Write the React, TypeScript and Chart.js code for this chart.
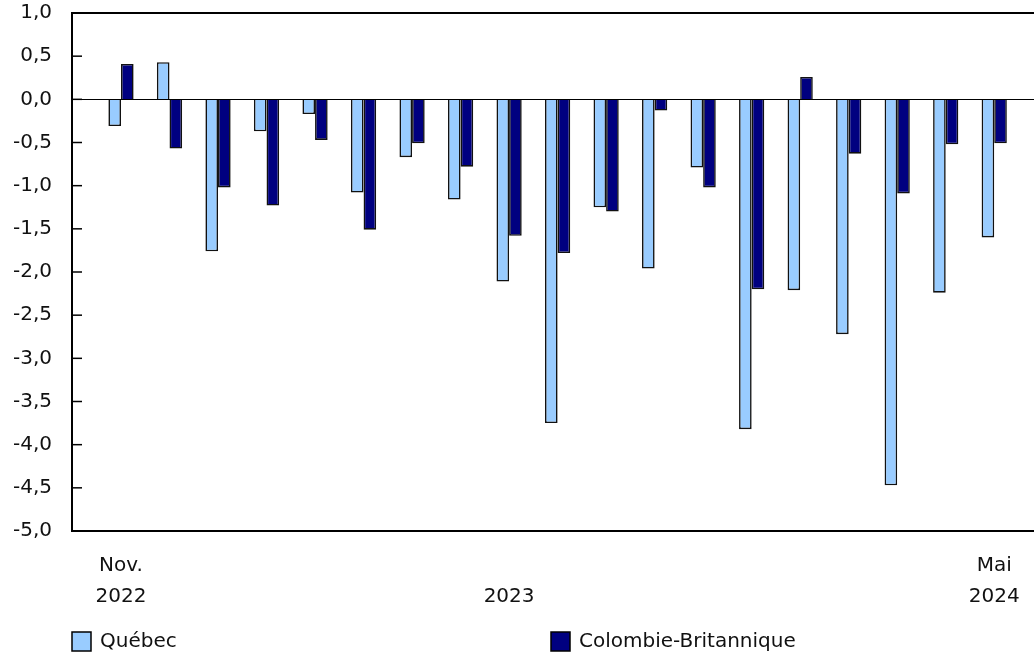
import React, { useEffect, useRef } from "react";
import { Chart, registerables } from "chart.js";

Chart.register(...registerables);

const months = [
  "Nov. 2022", "Déc. 2022", "Janv. 2023", "Févr. 2023", "Mars 2023", "Avr. 2023",
  "Mai 2023", "Juin 2023", "Juil. 2023", "Août 2023", "Sept. 2023", "Oct. 2023",
  "Nov. 2023", "Déc. 2023", "Janv. 2024", "Févr. 2024", "Mars 2024", "Avr. 2024", "Mai 2024",
];
const quebec = [
  -0.31, 0.43, -1.76, -0.37, -0.17, -1.08, -0.67, -1.16, -2.11, -3.75,
  -1.25, -1.96, -0.79, -3.82, -2.21, -2.72, -4.47, -2.24, -1.6,
];
const colombieBritannique = [
  0.41, -0.57, -1.02, -1.23, -0.47, -1.51, -0.51, -0.78, -1.58, -1.78,
  -1.3, -0.13, -1.02, -2.2, 0.26, -0.63, -1.09, -0.52, -0.51,
];
const xTickIndex = [0, 8, 18];
const xTickLabels = [["Nov.", "2022"], ["", "2023"], ["Mai", "2024"]];
const seriesNames = ["Québec", "Colombie-Britannique"];
const seriesColors = ["#99CCFF", "#000080"];

const FONT = "'DejaVu Sans', Verdana, sans-serif";
const FONT_SIZE = 20;
const TEXT = "#111";

const framePlugin = {
  id: "frame",
  afterDatasetsDraw(chart: any) {
    const { ctx, chartArea } = chart;
    const y = chart.scales.y;
    ctx.save();
    ctx.strokeStyle = "#000";
    ctx.lineWidth = 1.2;
    const y0 = Math.round(y.getPixelForValue(0)) + 0.5;
    ctx.beginPath();
    ctx.moveTo(chartArea.left, y0);
    ctx.lineTo(chartArea.right, y0);
    ctx.stroke();
    ctx.lineWidth = 1.5;
    y.ticks.forEach((t: any) => {
      const py = y.getPixelForValue(t.value);
      ctx.beginPath();
      ctx.moveTo(chartArea.left, py);
      ctx.lineTo(chartArea.left + 10, py);
      ctx.stroke();
    });
    ctx.lineWidth = 2;
    ctx.beginPath();
    ctx.moveTo(chartArea.right, chartArea.top);
    ctx.lineTo(chartArea.left, chartArea.top);
    ctx.lineTo(chartArea.left, chartArea.bottom);
    ctx.lineTo(chartArea.right, chartArea.bottom);
    ctx.stroke();
    ctx.restore();
  },
  afterDraw(chart: any) {
    const { ctx } = chart;
    const boxX = [72, 551];
    ctx.save();
    ctx.font = `${FONT_SIZE}px ${FONT}`;
    ctx.textBaseline = "middle";
    ctx.textAlign = "left";
    seriesNames.forEach((name, i) => {
      const bx = boxX[i];
      const by = 632;
      ctx.fillStyle = seriesColors[i];
      ctx.fillRect(bx, by, 19, 19);
      ctx.strokeStyle = "#000";
      ctx.lineWidth = 1.5;
      ctx.strokeRect(bx, by, 19, 19);
      ctx.fillStyle = TEXT;
      ctx.fillText(name, bx + 28, by + 10);
    });
    ctx.restore();
  },
};

export default function App() {
  const ref = useRef<HTMLCanvasElement>(null);
  useEffect(() => {
    document.body.style.margin = "0";
    const canvas = ref.current;
    if (!canvas) return;
    const chart = new Chart(canvas, {
      type: "bar",
      data: {
        labels: months,
        datasets: [
          {
            label: seriesNames[0],
            data: quebec.map((v, i) => ({ x: i, y: v })),
            backgroundColor: seriesColors[0],
            borderColor: "#111",
            borderWidth: 1.6,
          },
          {
            label: seriesNames[1],
            data: colombieBritannique.map((v, i) => ({ x: i, y: v })),
            backgroundColor: seriesColors[1],
            borderColor: "#111",
            borderWidth: 1.6,
          },
        ],
      },
      options: {
        responsive: false,
        animation: false,
        categoryPercentage: 0.52,
        barPercentage: 1,
        layout: { padding: { top: 13, left: 0, right: 0, bottom: 0 } },
        plugins: { legend: { display: false }, tooltip: { enabled: false } },
        scales: {
          x: {
            type: "linear",
            offset: false,
            min: -1.01,
            max: 18.82,
            grid: { display: false },
            border: { display: false },
            afterBuildTicks: (s: any) => {
              s.ticks = xTickIndex.map((v) => ({ value: v }));
            },
            afterFit: (s: any) => {
              s.height = 124;
              s.paddingLeft = 0;
              s.paddingRight = 0;
            },
            ticks: {
              autoSkip: false,
              maxRotation: 0,
              padding: 11.5,
              color: TEXT,
              font: { family: FONT, size: FONT_SIZE, lineHeight: "31px" },
              callback: (value: any) => {
                const i = xTickIndex.indexOf(value);
                return i >= 0 ? xTickLabels[i] : "";
              },
            },
          },
          y: {
            min: -5,
            max: 1,
            grid: { display: false, drawTicks: false },
            border: { display: false },
            afterFit: (s: any) => {
              s.width = 72;
              s.paddingTop = 0;
              s.paddingBottom = 0;
            },
            ticks: {
              stepSize: 0.5,
              padding: 20,
              color: TEXT,
              font: { family: FONT, size: FONT_SIZE },
              callback: (value: any) => Number(value).toFixed(1).replace(".", ","),
            },
          },
        },
      },
      plugins: [framePlugin],
    } as any);
    return () => chart.destroy();
  }, []);
  return (
    <div style={{ width: 1034, height: 655 }}>
      <canvas ref={ref} width={1034} height={655} />
    </div>
  );
}
